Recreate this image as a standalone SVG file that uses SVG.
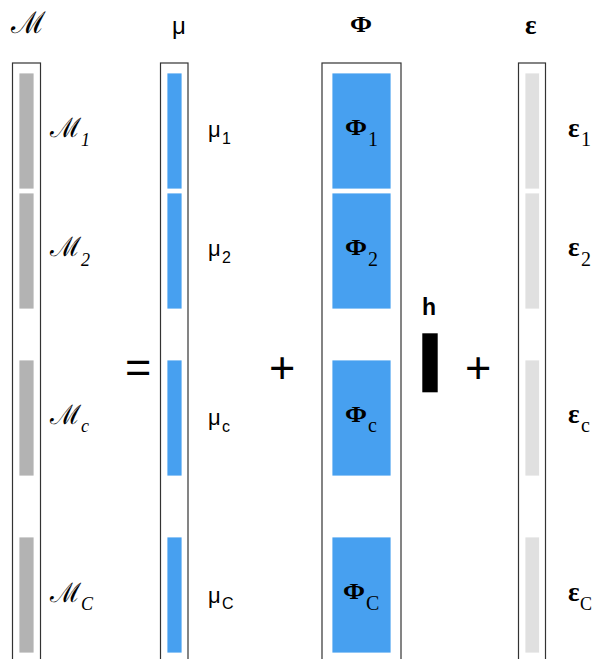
<svg xmlns="http://www.w3.org/2000/svg" width="592" height="659" viewBox="0 0 592 659">
<style>
.box{fill:#fff;stroke:#333;stroke-width:1.2}
.g{fill:#b3b3b3;stroke:#fff;stroke-width:0.8}
.b{fill:#47a0f0;stroke:#fff;stroke-width:0.8}
.e{fill:#e0e0e0;stroke:#fff;stroke-width:0.8}
.scr{font-family:"DejaVu Serif",serif;font-size:27px;fill:#000}
.msub{font-family:"Liberation Serif",serif;font-style:italic;font-size:18px;fill:#000}
.mu{font-family:"Liberation Sans",Arial,sans-serif;font-size:22px;fill:#000}
.musub{font-family:"Liberation Sans",Arial,sans-serif;font-size:16px;fill:#000}
.phi{font-family:"Liberation Serif",serif;font-weight:bold;font-size:23px;fill:#000}
.eps{font-family:"Liberation Serif",serif;font-weight:bold;font-size:27px;fill:#000}
.psub{font-family:"Liberation Serif",serif;font-size:20px;fill:#000}
.op{font-family:"Liberation Sans",Arial,sans-serif;font-size:45px;fill:#000}
</style>
<rect width="592" height="659" fill="#fff"/>
<g id="headers">
<text class="scr" x="11" y="33" style="font-size:30px">ℳ</text>
<text class="mu" x="172" y="34" style="font-size:24px">μ</text>
<text class="phi" x="350" y="32" textLength="22" lengthAdjust="spacingAndGlyphs">Φ</text>
<text class="eps" x="525" y="34">ε</text>
</g>
<g id="M">
<rect class="box" x="12.5" y="63" width="28" height="610"/>
<rect class="g" x="19" y="73" width="15" height="116"/>
<rect class="g" x="19" y="193" width="15" height="116"/>
<rect class="g" x="19" y="360" width="15" height="116"/>
<rect class="g" x="19" y="537" width="15" height="116"/>
<text class="scr" x="50" y="137">ℳ</text><text class="msub" x="81" y="146">1</text>
<text class="scr" x="50" y="256">ℳ</text><text class="msub" x="81" y="266">2</text>
<text class="scr" x="50" y="424">ℳ</text><text class="msub" x="81" y="432">c</text>
<text class="scr" x="50" y="602">ℳ</text><text class="msub" x="81" y="610">C</text>
</g>
<g id="mu">
<rect class="box" x="160.5" y="63" width="27.5" height="610"/>
<rect class="b" x="167" y="73" width="15" height="116"/>
<rect class="b" x="167" y="193" width="15" height="116"/>
<rect class="b" x="167" y="360" width="15" height="116"/>
<rect class="b" x="167" y="537" width="15" height="116"/>
<text class="mu" x="208" y="137">μ</text><text class="musub" x="222" y="144">1</text>
<text class="mu" x="208" y="256">μ</text><text class="musub" x="222" y="263">2</text>
<text class="mu" x="208" y="425">μ</text><text class="musub" x="222" y="432">c</text>
<text class="mu" x="208" y="603">μ</text><text class="musub" x="222" y="609">C</text>
</g>
<g id="Phi">
<rect class="box" x="322" y="63" width="79" height="610"/>
<rect class="b" x="332" y="73" width="59" height="116"/>
<rect class="b" x="332" y="193" width="59" height="116"/>
<rect class="b" x="332" y="360" width="59" height="116"/>
<rect class="b" x="332" y="537" width="59" height="116"/>
<text class="phi" x="345" y="135" textLength="22" lengthAdjust="spacingAndGlyphs">Φ</text><text class="psub" x="368" y="146">1</text>
<text class="phi" x="345" y="255" textLength="22" lengthAdjust="spacingAndGlyphs">Φ</text><text class="psub" x="368" y="266">2</text>
<text class="phi" x="345" y="422" textLength="22" lengthAdjust="spacingAndGlyphs">Φ</text><text class="psub" x="368" y="432">c</text>
<text class="phi" x="343" y="599" textLength="22" lengthAdjust="spacingAndGlyphs">Φ</text><text class="psub" x="366" y="610">C</text>
</g>
<g id="h">
<text x="422" y="315" style="font-family:'Liberation Sans',Arial,sans-serif;font-weight:bold;font-size:23px">h</text>
<rect x="422.3" y="333.3" width="15.4" height="59" fill="#000"/>
</g>
<g id="eps">
<rect class="box" x="518.5" y="63" width="27" height="610"/>
<rect class="e" x="525" y="73" width="14.5" height="116"/>
<rect class="e" x="525" y="193" width="14.5" height="116"/>
<rect class="e" x="525" y="360" width="14.5" height="116"/>
<rect class="e" x="525" y="537" width="14.5" height="116"/>
<text class="eps" x="568" y="137">ε</text><text class="psub" x="581" y="146">1</text>
<text class="eps" x="568" y="256">ε</text><text class="psub" x="581" y="266">2</text>
<text class="eps" x="568" y="423">ε</text><text class="psub" x="581" y="432">c</text>
<text class="eps" x="568" y="601">ε</text><text class="psub" x="580" y="610" style="font-size:18px">C</text>
</g>
<g id="operators">
<text class="op" x="125" y="382">=</text>
<text class="op" x="269" y="383">+</text>
<text class="op" x="465" y="383">+</text>
</g>
</svg>
